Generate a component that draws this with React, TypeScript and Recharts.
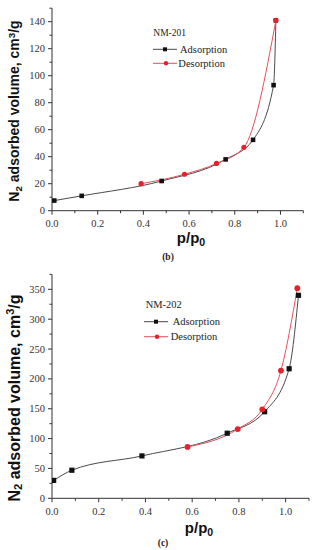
import React from 'react';
import { LineChart, Line, XAxis, YAxis, Legend } from 'recharts';

// ---- Data ----
const xTicks = [0, 0.1, 0.2, 0.3, 0.4, 0.5, 0.6, 0.7, 0.8, 0.9, 1.0, 1.1];

// NM-201
const ads201X = [0.01, 0.13, 0.48, 0.76, 0.88, 0.97, 0.98];
const ads201Y = [7.5, 11, 22, 38, 52.5, 93, 141];
const des201X = [0.39, 0.58, 0.72, 0.84, 0.98];
const des201Y = [20, 27, 35, 47, 141];
const yTicks201 = [0, 10, 20, 30, 40, 50, 60, 70, 80, 90, 100, 110, 120, 130, 140, 150];

// NM-202
const ads202X = [0.007, 0.085, 0.385, 0.75, 0.91, 1.015, 1.055];
const ads202Y = [30, 47, 71, 109, 145, 217, 340];
const des202X = [0.58, 0.795, 0.9, 0.98, 1.05];
const des202Y = [86, 116, 149, 214, 352];
const yTicks202 = [0, 25, 50, 75, 100, 125, 150, 175, 200, 225, 250, 275, 300, 325, 350, 375];

const zip = (xs: number[], ys: number[]) => xs.map((x, i) => ({ x, y: ys[i] }));

const AXIS = '#333';
const BLACK = '#111';
const GREY_LINE = '#4a4a4a';
const RED = '#e8202c';
const RED_LINE = '#e2525c';
const SERIF = '"Liberation Serif", "Times New Roman", serif';
const SANS = '"Liberation Sans", Arial, sans-serif';

const XTick = (props: any) => {
  const { x, y, payload } = props;
  const v = payload.value as number;
  const major = Math.round(v * 10) % 2 === 0;
  return (
    <g>
      <line x1={x} y1={y} x2={x} y2={y + (major ? 4 : 2.5)} stroke={AXIS} strokeWidth={1} />
      {major && (
        <text x={x} y={y + 13} textAnchor="middle" dominantBaseline="central" fontFamily={SERIF} fontSize={10.5} fill="#333">
          {v.toFixed(1)}
        </text>
      )}
    </g>
  );
};

const makeYTick = (step: number) => (props: any) => {
  const { x, y, payload } = props;
  const v = payload.value as number;
  const major = Math.round(v) % step === 0;
  return (
    <g>
      <line x1={x} y1={y} x2={x - (major ? 4 : 2.5)} y2={y} stroke={AXIS} strokeWidth={1} />
      {major && (
        <text x={x - 7} y={y} textAnchor="end" dominantBaseline="central" fontFamily={SERIF} fontSize={10.5} fill="#333">
          {v}
        </text>
      )}
    </g>
  );
};

const SquareDot = (size: number) => (props: any) => {
  const { cx, cy, index } = props;
  if (cx == null || cy == null) return <g key={index} />;
  return <rect key={index} x={cx - size / 2} y={cy - size / 2} width={size} height={size} fill={BLACK} />;
};
const CircleDot = (r: number) => (props: any) => {
  const { cx, cy, index } = props;
  if (cx == null || cy == null) return <g key={index} />;
  return <circle key={index} cx={cx} cy={cy} r={r} fill={RED} />;
};

type LegendGeom = {
  name: string;
  nameX: number; nameY: number; nameSize: number;
  row1: number; row2: number;
  lineX1: number; lineX2: number; markX: number;
  text1X: number; text2X: number;
};

const makeLegend = (g: LegendGeom) => () => (
  <svg width={140} height={50} style={{ display: 'block' }}>
    <text x={g.nameX} y={g.nameY} dominantBaseline="central" fontFamily={SERIF} fontSize={g.nameSize} fill="#222">{g.name}</text>
    <line x1={g.lineX1} x2={g.lineX2} y1={g.row1} y2={g.row1} stroke={GREY_LINE} strokeWidth={1} />
    <rect x={g.markX - 2} y={g.row1 - 2} width={4} height={4} fill={BLACK} />
    <text x={g.text1X} y={g.row1} dominantBaseline="central" fontFamily={SERIF} fontSize={10.5} fill="#222">Adsorption</text>
    <line x1={g.lineX1} x2={g.lineX2} y1={g.row2} y2={g.row2} stroke={RED_LINE} strokeWidth={1} />
    <circle cx={g.markX + 1} cy={g.row2} r={2.2} fill={RED} />
    <text x={g.text2X} y={g.row2} dominantBaseline="central" fontFamily={SERIF} fontSize={10.5} fill="#222">Desorption</text>
  </svg>
);

type ChartProps = {
  top: number; height: number;
  margin: { top: number; right: number; bottom: number; left: number };
  yMax: number; yTicks: number[]; yStep: number;
  ads: { x: number; y: number }[]; des: { x: number; y: number }[];
  dot: number; legend: LegendGeom; legendLeft: number; legendTop: number;
};

const Isotherm = (p: ChartProps) => (
  <div style={{ position: 'absolute', left: 0, top: p.top, width: 316, height: p.height }}>
    <LineChart
      width={316}
      height={p.height}
      margin={{ top: p.margin.top, right: p.margin.right, bottom: p.margin.bottom - 1, left: p.margin.left - 1 }}
    >
      <XAxis
        type="number"
        dataKey="x"
        domain={[0, 1.1]}
        ticks={xTicks}
        interval={0}
        allowDataOverflow
        height={1}
        tickSize={0}
        tickMargin={0}
        tickLine={false}
        tick={XTick}
        axisLine={{ stroke: AXIS, strokeWidth: 1 }}
      />
      <YAxis
        type="number"
        dataKey="y"
        domain={[0, p.yMax]}
        ticks={p.yTicks}
        interval={0}
        allowDataOverflow
        width={1}
        tickSize={0}
        tickMargin={0}
        tickLine={false}
        tick={makeYTick(p.yStep)}
        axisLine={{ stroke: AXIS, strokeWidth: 1 }}
      />
      <Legend
        layout="horizontal"
        verticalAlign="middle"
        align="center"
        content={makeLegend(p.legend)}
        wrapperStyle={{ position: 'absolute', left: p.legendLeft, top: p.legendTop, width: 140, height: 50 }}
      />
      <Line
        data={p.ads}
        dataKey="y"
        type="monotone"
        stroke={GREY_LINE}
        strokeWidth={1}
        dot={SquareDot(p.dot)}
        activeDot={false}
        isAnimationActive={false}
      />
      <Line
        data={p.des}
        dataKey="y"
        type="monotone"
        stroke={RED_LINE}
        strokeWidth={1}
        dot={CircleDot(p.dot / 2 + 0.3)}
        activeDot={false}
        isAnimationActive={false}
      />
    </LineChart>
  </div>
);

const YTitle = ({ cx, cy, size }: { cx: number; cy: number; size: number }) => (
  <div
    style={{
      position: 'absolute', left: cx, top: cy, whiteSpace: 'nowrap',
      transform: 'translate(-50%, -50%) rotate(-90deg)',
      fontFamily: SANS, fontWeight: 'bold', fontSize: size, color: '#111', lineHeight: 1,
    }}
  >
    N<sub style={{ fontSize: '0.7em', verticalAlign: '-0.25em' }}>2</sub> adsorbed volume, cm
    <sup style={{ fontSize: '0.7em', verticalAlign: '0.45em' }}>3</sup>/g
  </div>
);

const XTitle = ({ cx, cy, size }: { cx: number; cy: number; size: number }) => (
  <div
    style={{
      position: 'absolute', left: cx, top: cy, whiteSpace: 'nowrap',
      transform: 'translate(-50%, -50%)',
      fontFamily: SANS, fontWeight: 'bold', fontSize: size, color: '#111', lineHeight: 1,
    }}
  >
    p/p<sub style={{ fontSize: '0.7em', verticalAlign: '-0.25em' }}>0</sub>
  </div>
);

const Caption = ({ cx, cy, text }: { cx: number; cy: number; text: string }) => (
  <div
    style={{
      position: 'absolute', left: cx, top: cy, whiteSpace: 'nowrap',
      transform: 'translate(-50%, -50%)',
      fontFamily: SERIF, fontWeight: 'bold', fontSize: 9.5, color: '#222', lineHeight: 1,
    }}
  >
    {text}
  </div>
);

export default function App() {
  return (
    <div style={{ position: 'absolute', left: 0, top: 0, width: 316, height: 550, background: '#fff', overflow: 'hidden' }}>
      <Isotherm
        top={0}
        height={275}
        margin={{ top: 8.2, right: 12.7, bottom: 64.3, left: 52 }}
        yMax={150}
        yTicks={yTicks201}
        yStep={20}
        ads={zip(ads201X, ads201Y)}
        des={zip(des201X, des201Y)}
        dot={4.6}
        legendLeft={150}
        legendTop={24}
        legend={{
          name: 'NM-201', nameX: 3.3, nameY: 9.3, nameSize: 9.5,
          row1: 25.3, row2: 39.3, lineX1: 3, lineX2: 27, markX: 15,
          text1X: 30, text2X: 28.3,
        }}
      />
      <Isotherm
        top={265}
        height={285}
        margin={{ top: 9.4, right: 7, bottom: 51.7, left: 52 }}
        yMax={375}
        yTicks={yTicks202}
        yStep={50}
        ads={zip(ads202X, ads202Y)}
        des={zip(des202X, des202Y)}
        dot={5.2}
        legendLeft={142}
        legendTop={30}
        legend={{
          name: 'NM-202', nameX: 3.7, nameY: 9.3, nameSize: 10.5,
          row1: 26.7, row2: 41.7, lineX1: 2, lineX2: 26, markX: 14,
          text1X: 30.7, text2X: 28.7,
        }}
      />
      <YTitle cx={15} cy={111} size={14} />
      <YTitle cx={15} cy={398} size={16} />
      <XTitle cx={191} cy={238.5} size={15} />
      <XTitle cx={199} cy={528.5} size={15} />
      <Caption cx={168} cy={258} text="(b)" />
      <Caption cx={163} cy={544} text="(c)" />
    </div>
  );
}
